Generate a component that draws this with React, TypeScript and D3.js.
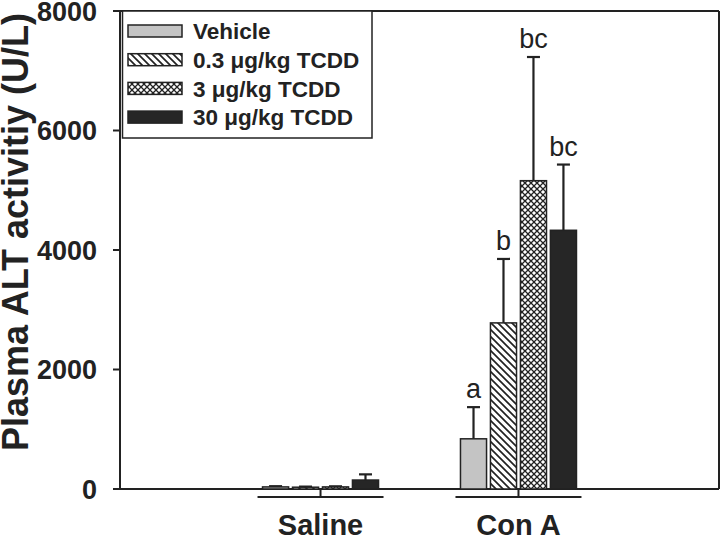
import React from "react";
import * as d3 from "d3";

const groups = ["Saline", "Con A"];
const series = ["Vehicle", "0.3 μg/kg TCDD", "3 μg/kg TCDD", "30 μg/kg TCDD"];
const salineMeans = [35, 30, 35, 150];
const salineErrors = [12, 10, 10, 95];
const conAMeans = [840, 2780, 5160, 4330];
const conAErrors = [530, 1070, 2070, 1100];
const conALetters = ["a", "b", "bc", "bc"];
const yTicks = [0, 2000, 4000, 6000, 8000];

const W = 720;
const H = 538;
const INK = "#222";
const FONT = "'Liberation Sans', Arial, sans-serif";

const fills = ["#c4c4c4", "url(#hatch)", "url(#cross)", "#262626"];

export default function App() {
  const left = 120;
  const right = 719;
  const top = 11;
  const bottom = 489;

  const y = d3.scaleLinear().domain([0, 8000]).range([bottom, top]);
  const x = d3.scalePoint<string>().domain(groups).range([left, right]).padding(1.013);
  const inner = d3.scaleBand<string>().domain(series).range([-58, 58]).paddingInner(0.13);
  const bw = inner.bandwidth();

  const data = [
    { g: groups[0], means: salineMeans, errs: salineErrors, letters: ["", "", "", ""] },
    { g: groups[1], means: conAMeans, errs: conAErrors, letters: conALetters },
  ];

  return (
    <svg width={W} height={H} style={{ position: "absolute", left: 0, top: 0, background: "#fff" }} fontFamily={FONT}>
      <defs>
        <pattern id="hatch" patternUnits="userSpaceOnUse" width="7" height="7">
          <rect width="7" height="7" fill="#fff" />
          <path d="M-2,-2 L9,9 M-2,5 L2,9 M5,-2 L9,2" stroke={INK} strokeWidth="1.7" />
        </pattern>
        <pattern id="cross" patternUnits="userSpaceOnUse" width="6" height="6">
          <rect width="6" height="6" fill="#fff" />
          <path d="M-1,-1 L7,7 M-1,7 L7,-1" stroke={INK} strokeWidth="1.3" />
        </pattern>
      </defs>

      {/* frame */}
      <line x1={left} x2={right} y1={top} y2={top} stroke={INK} strokeWidth={2} />
      <line x1={right} x2={right} y1={top} y2={bottom} stroke={INK} strokeWidth={2} />
      <line x1={left} x2={right} y1={bottom} y2={bottom} stroke={INK} strokeWidth={2} />
      <line x1={left} x2={left} y1={top} y2={bottom} stroke={INK} strokeWidth={2} />

      {/* y ticks */}
      {yTicks.map((t) => (
        <g key={t}>
          <line x1={left - 7} x2={left} y1={y(t)} y2={y(t)} stroke={INK} strokeWidth={2} />
          <text x={97} y={y(t)} dy="0.36em" textAnchor="end" fontSize={27} fontWeight="bold" fill={INK}>
            {t}
          </text>
        </g>
      ))}

      {/* y title */}
      <text
        transform={`translate(28,${232}) rotate(-90)`}
        textAnchor="middle"
        fontSize={36}
        fontWeight="bold"
        fill={INK}
      >
        Plasma ALT activitiy (U/L)
      </text>

      {/* group axes */}
      {groups.map((g) => (
        <g key={g}>
          <line x1={x(g)! - 63} x2={x(g)! + 63} y1={bottom + 8} y2={bottom + 8} stroke={INK} strokeWidth={2} />
          <line x1={x(g)!} x2={x(g)!} y1={bottom} y2={bottom + 8} stroke={INK} strokeWidth={2} />
          <text x={x(g)!} y={535} textAnchor="middle" fontSize={29} fontWeight="bold" fill={INK}>
            {g}
          </text>
        </g>
      ))}

      {/* bars */}
      {data.map((d) => (
        <g key={d.g}>
          {series.map((s, i) => {
            const bx = x(d.g)! + inner(s)!;
            const cx = bx + bw / 2;
            const yt = y(d.means[i]);
            const ye = y(d.means[i] + d.errs[i]);
            return (
              <g key={s}>
                <line x1={cx} x2={cx} y1={yt} y2={ye} stroke={INK} strokeWidth={2.2} />
                <line x1={cx - 6.5} x2={cx + 6.5} y1={ye} y2={ye} stroke={INK} strokeWidth={2.2} />
                <rect x={bx} y={yt} width={bw} height={bottom - yt} fill={fills[i]} stroke={INK} strokeWidth={1.5} />
                {d.letters[i] && (
                  <text x={cx} y={ye - 9} textAnchor="middle" fontSize={27} fill={INK}>
                    {d.letters[i]}
                  </text>
                )}
              </g>
            );
          })}
        </g>
      ))}

      {/* legend */}
      <rect x={122.5} y={top} width={249.5} height={127} fill="#fff" stroke={INK} strokeWidth={1.5} />
      {series.map((s, i) => {
        const cy = 31 + i * 28.7;
        return (
          <g key={s}>
            <rect x={128} y={cy - 6} width={54} height={12} fill={fills[i]} stroke={INK} strokeWidth={1.5} />
            <text x={193} y={cy} dy="0.37em" fontSize={22.5} fontWeight="bold" fill={INK}>
              {s}
            </text>
          </g>
        );
      })}
    </svg>
  );
}
